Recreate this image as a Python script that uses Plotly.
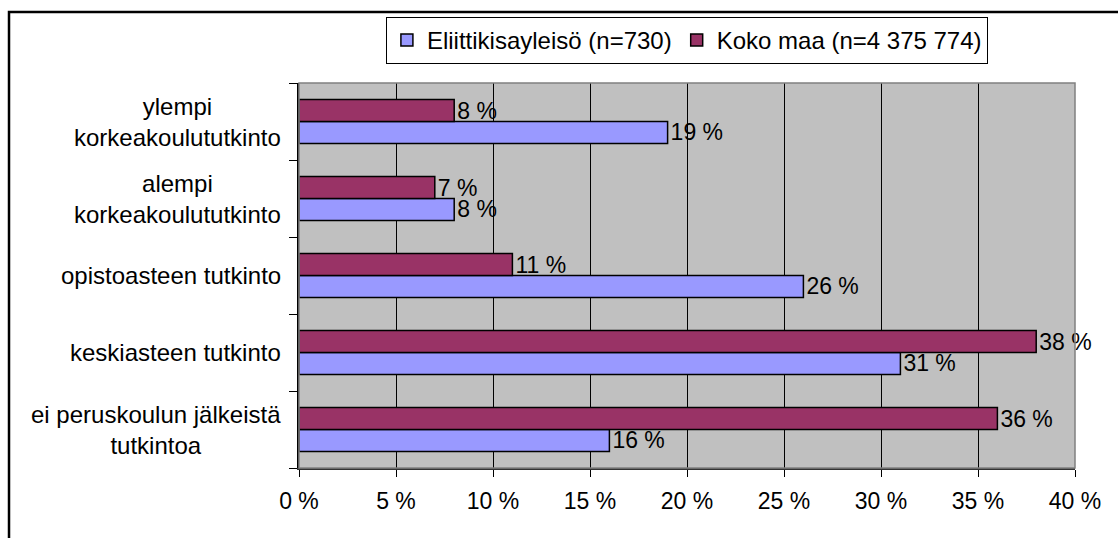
import plotly.graph_objects as go

# Tiedot (alhaalta ylös)
categories = [
    "ei peruskoulun jälkeistä<br>tutkintoa",
    "keskiasteen tutkinto",
    "opistoasteen tutkinto",
    "alempi<br>korkeakoulututkinto",
    "ylempi<br>korkeakoulututkinto",
]
eliitti = [16, 31, 26, 8, 19]
koko_maa = [36, 38, 11, 7, 8]
series_names = ["Eliittikisayleisö (n=730)", "Koko maa (n=4 375 774)"]
x_ticks = [0, 5, 10, 15, 20, 25, 30, 35, 40]

FONT = "Liberation Sans, Arial, sans-serif"

fig = go.Figure()

for name, vals, color in [
    (series_names[0], eliitti, "#9999ff"),
    (series_names[1], koko_maa, "#993366"),
]:
    fig.add_trace(go.Bar(
        y=categories,
        x=vals,
        orientation="h",
        name=name,
        marker=dict(color=color, line=dict(color="black", width=1.5)),
        text=[f"{v} %" for v in vals],
        textposition="outside",
        textfont=dict(size=23, color="black", family=FONT),
        constraintext="none",
        cliponaxis=False,
        hoverinfo="skip",
    ))

# Luokkien nimet keskitettyinä lohkoina
for cat in categories:
    fig.add_annotation(
        x=-0.02, xref="paper", y=cat, yref="y",
        text=cat, showarrow=False,
        xanchor="right", align="center",
        font=dict(size=24, color="black", family=FONT),
    )

# Piirtoalueen harmaa reunus ja koko kaavion musta kehys
fig.add_shape(type="rect", xref="paper", yref="paper", x0=0, x1=1, y0=0, y1=1,
              line=dict(color="#808080", width=1.5), layer="above")
fig.add_shape(type="rect", xref="paper", yref="paper", x0=-0.3737, x1=1.2, y0=-0.4, y1=1.1844,
              line=dict(color="black", width=2.5), layer="above")

fig.update_layout(
    width=1118,
    height=538,
    margin=dict(l=299, r=43, t=83, b=70),
    paper_bgcolor="white",
    plot_bgcolor="#c0c0c0",
    barmode="group",
    bargap=0.43,
    bargroupgap=0,
    font=dict(family=FONT, size=22, color="black"),
    showlegend=True,
    legend=dict(
        orientation="h",
        x=0.112, xanchor="left",
        y=1.172, yanchor="top",
        bgcolor="white",
        bordercolor="black",
        borderwidth=1,
        font=dict(size=24, family=FONT, color="black"),
        itemwidth=30,
        traceorder="normal",
    ),
    xaxis=dict(
        range=[0, 40],
        tickmode="array",
        tickvals=x_ticks,
        ticktext=[f"{t} %" for t in x_ticks],
        showgrid=True,
        gridcolor="black",
        gridwidth=1,
        zeroline=False,
        showline=True,
        linecolor="#333333",
        linewidth=1.5,
        ticks="outside",
        ticklen=7,
        tickcolor="black",
        ticklabelstandoff=5,
        tickfont=dict(size=23, family=FONT, color="black"),
    ),
    yaxis=dict(
        type="category",
        showticklabels=False,
        showgrid=False,
        zeroline=False,
        showline=True,
        linecolor="black",
        linewidth=1.5,
        ticks="outside",
        tickson="boundaries",
        ticklen=8,
        tickcolor="black",
    ),
)

fig.write_html(
    "out.html",
    config={"displayModeBar": False},
    post_script="document.body.style.margin='0';",
)
